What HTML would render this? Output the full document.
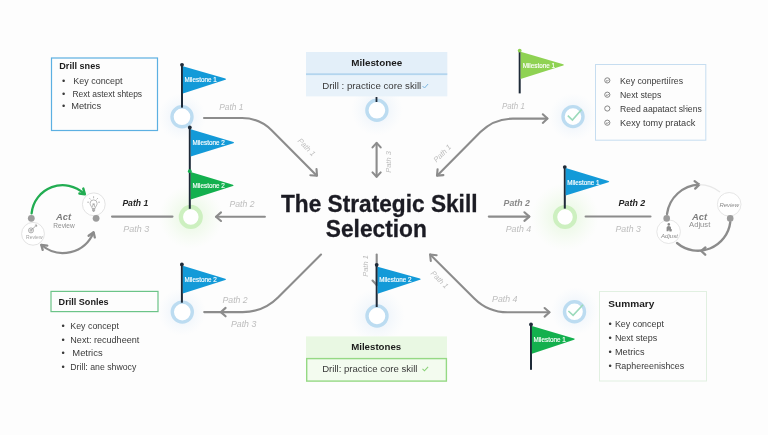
<!DOCTYPE html>
<html><head><meta charset="utf-8">
<style>
html,body{margin:0;padding:0;background:#fdfdfd;}
body{width:768px;height:435px;overflow:hidden;position:relative;}
svg{position:absolute;left:0;top:0;display:block;will-change:transform;}
text{font-family:"Liberation Sans",sans-serif;}
.pl{font-style:italic;font-size:9.2px;fill:#bdbdbd;}
.pm{font-style:italic;font-weight:bold;font-size:9.2px;fill:#8a8a8a;}
.pd{font-style:italic;font-weight:bold;font-size:9.6px;fill:#242424;}
.pr{font-style:italic;font-size:7.5px;fill:#bdbdbd;}
.fl{font-size:6.7px;fill:#fff;stroke:#fff;stroke-width:0.15;}
.ln{fill:none;stroke:#8c8c8c;stroke-width:2.1;stroke-linecap:round;stroke-linejoin:round;}
.ah{fill:none;stroke:#8c8c8c;stroke-width:2.1;stroke-linecap:round;stroke-linejoin:round;}
.bt{font-size:9.3px;fill:#3a3a3a;}
.bh{font-size:9.8px;font-weight:bold;fill:#1c1c1c;}
.pole{fill:#1e2a38;}
</style></head>
<body>
<svg width="768" height="435" viewBox="0 0 768 435">
<defs>
  <radialGradient id="gb" cx="50%" cy="50%" r="50%">
    <stop offset="0" stop-color="#dbebf7" stop-opacity="0.75"/>
    <stop offset="0.5" stop-color="#e8f1fa" stop-opacity="0.45"/>
    <stop offset="1" stop-color="#eef5fb" stop-opacity="0"/>
  </radialGradient>
  <radialGradient id="gg" cx="50%" cy="50%" r="50%">
    <stop offset="0" stop-color="#dcf4d1" stop-opacity="0.7"/>
    <stop offset="0.5" stop-color="#e8f8e1" stop-opacity="0.5"/>
    <stop offset="1" stop-color="#effaea" stop-opacity="0"/>
  </radialGradient>
</defs>
<rect x="0" y="0" width="768" height="435" fill="#fdfdfd"/>

<!-- glows -->
<circle cx="182" cy="117" r="24" fill="url(#gb)"/>
<circle cx="191" cy="217" r="32" fill="url(#gg)"/>
<circle cx="377" cy="110" r="26" fill="url(#gb)"/>
<circle cx="573" cy="117" r="24" fill="url(#gb)"/>
<circle cx="565" cy="217" r="34" fill="url(#gg)"/>
<circle cx="182" cy="312" r="24" fill="url(#gb)"/>
<circle cx="377" cy="316" r="28" fill="url(#gb)"/>
<circle cx="575" cy="311" r="24" fill="url(#gb)"/>

<!-- ============ BOXES ============ -->
<!-- TL Drill snes -->
<rect x="51.5" y="58" width="106" height="72.5" fill="#fdfdfd" stroke="#5cb0e2" stroke-width="1.2"/>
<text class="bh" x="59.3" y="69" textLength="41" lengthAdjust="spacingAndGlyphs">Drill snes</text>
<text class="bt" x="61.9" y="84.4">•</text><text class="bt" x="73.2" y="84.4" textLength="49.4" lengthAdjust="spacingAndGlyphs">Key concept</text>
<text class="bt" x="61.9" y="97.3">•</text><text class="bt" x="72.5" y="97.3" textLength="69.6" lengthAdjust="spacingAndGlyphs">Rext astext shteps</text>
<text class="bt" x="61.9" y="109.4">•</text><text class="bt" x="71.2" y="109.4" textLength="30" lengthAdjust="spacingAndGlyphs">Metrics</text>

<!-- TC Milestonee -->
<rect x="306" y="52" width="141.3" height="22" fill="#e3eff9"/>
<rect x="306" y="74" width="141.3" height="22.4" fill="#e8f2fa"/>
<rect x="306" y="73.3" width="141.3" height="1.8" fill="#b3d5ee"/>
<text class="bh" x="351.2" y="66.1" textLength="51" lengthAdjust="spacingAndGlyphs">Milestonee</text>
<text class="bt" x="322.2" y="89.4" textLength="99" lengthAdjust="spacingAndGlyphs" style="font-size:9.6px">Drill : practice core skill</text>
<path d="M422.5,86 l2,2 l3.6,-4" fill="none" stroke="#7cb7e0" stroke-width="1"/>

<!-- TR list box -->
<rect x="595.5" y="64.5" width="110.3" height="75.7" fill="#fdfdfd" stroke="#c6ddf0" stroke-width="1"/>
<g fill="none" stroke="#7a7a7a" stroke-width="0.9">
  <circle cx="607.3" cy="80.4" r="2.6"/><circle cx="607.3" cy="94.7" r="2.6"/>
  <circle cx="607.3" cy="108.5" r="2.6"/><circle cx="607.3" cy="122.7" r="2.6"/>
  <path d="M606,80.4 l1.1,1 l1.6,-1.7"/><path d="M606,94.7 l1.1,1 l1.6,-1.7"/>
  <path d="M606,122.7 l1.1,1 l1.6,-1.7"/>
</g>
<text class="bt" x="620" y="83.7" textLength="63" lengthAdjust="spacingAndGlyphs">Key conpertiíres</text>
<text class="bt" x="620" y="97.5" textLength="41.3" lengthAdjust="spacingAndGlyphs">Next steps</text>
<text class="bt" x="620" y="111.7" textLength="81.8" lengthAdjust="spacingAndGlyphs">Reed aapatact sŀiens</text>
<text class="bt" x="620" y="126" textLength="75.3" lengthAdjust="spacingAndGlyphs">Kexy tomy pratack</text>

<!-- BL Drill Sonles -->
<rect x="51" y="291.4" width="107" height="20.2" fill="#fdfdfd" stroke="#6cc488" stroke-width="1.2"/>
<text class="bh" x="58.6" y="305" textLength="50" lengthAdjust="spacingAndGlyphs">Drill Sonles</text>
<text class="bt" x="61.4" y="329.4">•</text><text class="bt" x="70.3" y="329.4" textLength="48.6" lengthAdjust="spacingAndGlyphs">Key concept</text>
<text class="bt" x="61.4" y="342.6">•</text><text class="bt" x="70.3" y="342.6" textLength="69" lengthAdjust="spacingAndGlyphs">Next: recudheent</text>
<text class="bt" x="61.4" y="356">•</text><text class="bt" x="72.3" y="356" textLength="30.3" lengthAdjust="spacingAndGlyphs">Metrics</text>
<text class="bt" x="61.4" y="369.6">•</text><text class="bt" x="70.3" y="369.6" textLength="66" lengthAdjust="spacingAndGlyphs">Drill: ane shwocy</text>

<!-- BC Milestones -->
<rect x="306" y="336.4" width="141" height="21.8" fill="#e9f8e3"/>
<rect x="306.7" y="358.6" width="139.7" height="22.5" fill="#f3fbef" stroke="#95d984" stroke-width="1.4"/>
<text class="bh" x="351.2" y="350.2" textLength="50" lengthAdjust="spacingAndGlyphs">Milestones</text>
<text class="bt" x="322.2" y="372.4" textLength="95.3" lengthAdjust="spacingAndGlyphs" style="font-size:9.6px">Drill: practice core skill</text>
<path d="M422.5,368.8 l2,2 l3.6,-4" fill="none" stroke="#8bd27a" stroke-width="1.1"/>

<!-- BR Summary -->
<rect x="599.5" y="291.5" width="107" height="89.5" fill="#fdfdfd" stroke="#e1f0e1" stroke-width="1"/>
<text class="bh" x="608.3" y="306.7" textLength="46" lengthAdjust="spacingAndGlyphs">Summary</text>
<text class="bt" x="608.6" y="326.6">•</text><text class="bt" x="614.9" y="326.6" textLength="49" lengthAdjust="spacingAndGlyphs">Key concept</text>
<text class="bt" x="608.6" y="340.9">•</text><text class="bt" x="614.9" y="340.9" textLength="42.4" lengthAdjust="spacingAndGlyphs">Next steps</text>
<text class="bt" x="608.6" y="354.8">•</text><text class="bt" x="614.9" y="354.8" textLength="29.6" lengthAdjust="spacingAndGlyphs">Metrics</text>
<text class="bt" x="608.6" y="369.1">•</text><text class="bt" x="614.9" y="369.1" textLength="69.3" lengthAdjust="spacingAndGlyphs">Raphereenishces</text>

<!-- ============ TITLE ============ -->
<text x="281" y="212.1" style="font-size:23.6px;font-weight:bold;fill:#1b1b23;stroke:#1b1b23;stroke-width:0.3" textLength="196.5" lengthAdjust="spacingAndGlyphs">The Strategic Skill</text>
<text x="325.8" y="236.9" style="font-size:23.6px;font-weight:bold;fill:#1b1b23;stroke:#1b1b23;stroke-width:0.3" textLength="101" lengthAdjust="spacingAndGlyphs">Selection</text>

<!-- ============ LINES ============ -->
<!-- TL curve -->
<path class="ln" d="M204,118 H241.9 A42,42 0 0 1 271.6,130.2 L316.6,175.4"/>
<path class="ah" d="M310.3,175.2 L317,175.7 L316.5,169"/>
<!-- TC vertical double arrow -->
<path class="ln" d="M376.6,143.2 V176.6"/>
<path class="ah" d="M372.5,147.4 L376.6,142.9 L380.7,147.4"/>
<path class="ah" d="M372.5,172.4 L376.6,176.8 L380.7,172.4"/>
<!-- TR curve (double-headed) -->
<path class="ln" d="M437.3,175.4 L480.4,132.1 A46,46 0 0 1 512.9,118.6 H547.3"/>
<path class="ah" d="M437.6,169.2 L437,175.6 L443.4,175.1"/>
<path class="ah" d="M542.8,114.3 L547.5,118.6 L542.8,122.9"/>
<!-- L left line & arrow -->
<path class="ln" d="M112,216.6 H172.5"/>
<path class="ln" d="M216.2,216.7 H264.9"/>
<path class="ah" d="M221,212.4 L216,216.7 L221,221"/>
<!-- R arrow & line -->
<path class="ln" d="M488.8,216.6 H529.2"/>
<path class="ah" d="M524.4,212.3 L529.4,216.6 L524.4,220.9"/>
<path class="ln" d="M585.6,216.5 H650.5"/>
<!-- BL curve -->
<path class="ln" d="M321,254.5 L278,297.5 A50,50 0 0 1 242.7,312.1 H204.2"/>
<path class="ah" d="M225.6,307.9 L220.9,312.1 L225.6,316.3"/>
<!-- BC vertical -->
<path class="ln" d="M376.7,254.5 V285"/>
<path class="ah" d="M372.5,280.5 L376.7,285 L380.9,280.5"/>
<!-- BR curve -->
<path class="ln" d="M430.2,254.6 L474.3,298.5 A47,47 0 0 0 507.6,312.3 H549.3"/>
<path class="ah" d="M430.8,261 L430.1,254.5 L436.6,255.2"/>
<path class="ah" d="M544.6,308 L549.5,312.3 L544.6,316.6"/>

<!-- ============ PATH LABELS ============ -->
<text class="pl" x="219.2" y="109.8" textLength="24.2" lengthAdjust="spacingAndGlyphs">Path 1</text>
<text class="pr" transform="translate(306.8,147) rotate(45)" text-anchor="middle" y="2.8">Path 1</text>
<text class="pr" transform="translate(388.2,162) rotate(-90)" text-anchor="middle" y="2.8">Path 3</text>
<text class="pr" transform="translate(442.1,153.2) rotate(-45)" text-anchor="middle" y="2.8">Path 1</text>
<text class="pl" x="501.9" y="108.8" textLength="23" lengthAdjust="spacingAndGlyphs">Path 1</text>
<text class="pl" x="229.5" y="206.9" textLength="25" lengthAdjust="spacingAndGlyphs">Path 2</text>
<text class="pd" x="122.4" y="206" textLength="25.8" lengthAdjust="spacingAndGlyphs">Path 1</text>
<text class="pl" x="123.2" y="232.1" textLength="26" lengthAdjust="spacingAndGlyphs">Path 3</text>
<text class="pm" x="503.6" y="206.3" textLength="26.3" lengthAdjust="spacingAndGlyphs">Path 2</text>
<text class="pl" x="505.7" y="232" textLength="25.5" lengthAdjust="spacingAndGlyphs">Path 4</text>
<text class="pd" x="618.6" y="206.3" textLength="26.6" lengthAdjust="spacingAndGlyphs">Path 2</text>
<text class="pl" x="615.5" y="232" textLength="25.3" lengthAdjust="spacingAndGlyphs">Path 3</text>
<text class="pl" x="222.5" y="302.7" textLength="25.2" lengthAdjust="spacingAndGlyphs">Path 2</text>
<text class="pl" x="230.9" y="326.7" textLength="25.4" lengthAdjust="spacingAndGlyphs">Path 3</text>
<text class="pr" transform="translate(365.6,266) rotate(-90)" text-anchor="middle" y="2.8">Path 1</text>
<text class="pr" transform="translate(439.8,279.4) rotate(45)" text-anchor="middle" y="2.8">Path 1</text>
<text class="pl" x="492.1" y="302.1" textLength="25.4" lengthAdjust="spacingAndGlyphs">Path 4</text>

<!-- ============ CYCLES ============ -->
<!-- Left cycle -->
<path d="M31.6,213.4 A31.2,31.2 0 0 1 84.2,193.8" fill="none" stroke="#22ad52" stroke-width="2.3" stroke-linecap="round"/>
<path d="M79.4,193.5 L84.9,194.4 L83.3,188.6" fill="none" stroke="#22ad52" stroke-width="2.4" stroke-linecap="round" stroke-linejoin="round"/>
<path class="ln" style="stroke-width:2.3" d="M93.4,232.6 A32.8,32.8 0 0 1 41.6,245"/>
<path class="ah" style="stroke-width:2.3" d="M88.6,235.8 L93.6,232.3 L94.8,237.4"/>
<path class="ah" style="stroke-width:2.3" d="M47.3,245.7 L41.2,244.8 L42.7,249.9"/>
<circle cx="93.8" cy="204.3" r="11.4" fill="#fff" stroke="#dcdcdc" stroke-width="0.8"/>
<circle cx="33" cy="233.8" r="11.4" fill="#fff" stroke="#dcdcdc" stroke-width="0.8"/>
<circle cx="31.3" cy="218.3" r="3.4" fill="#9c9c9c"/>
<circle cx="96.1" cy="218.3" r="3.4" fill="#9c9c9c"/>
<!-- bulb -->
<g fill="none" stroke="#8a8a8a" stroke-width="0.6" stroke-linecap="round">
  <path d="M92,208 C92,206.6 90.1,205.6 90.1,203.4 A3.5,3.5 0 1 1 97.1,203.4 C97.1,205.6 95.2,206.6 95.2,208 Z"/>
  <path d="M92.6,206.5 L93.1,203.6 L93.6,204.6 L94.1,203.6 L94.6,206.5"/>
  <path d="M93.6,196.6 V197.9 M89.6,198.4 l0.8,0.8 M97.6,198.4 l-0.8,0.8 M87.6,202.2 h1.1 M99.6,202.2 h-1.1"/>
</g>
<g fill="#9a9a9a"><rect x="92.1" y="208.4" width="3" height="2.6" rx="0.5"/><rect x="92.8" y="211" width="1.6" height="0.8"/></g>
<path d="M92.1,209.3 H95.1 M92.1,210.2 H95.1" stroke="#fff" stroke-width="0.3"/>
<!-- target icon -->
<g fill="none" stroke="#8a8a8a" stroke-width="0.7">
  <circle cx="31" cy="230.4" r="2.5"/>
  <circle cx="31" cy="230.4" r="0.9"/>
  <path d="M31.3,230.1 L36.4,225.3"/>
  <path d="M34.9,225.1 L36.7,225 L36.6,226.8"/>
</g>
<text x="34.3" y="238.8" text-anchor="middle" textLength="16.5" lengthAdjust="spacingAndGlyphs" style="font-size:5px;fill:#a3a3a3">Review</text>
<text x="63.6" y="219.6" text-anchor="middle" textLength="15.2" lengthAdjust="spacingAndGlyphs" style="font-size:9px;font-weight:bold;font-style:italic;fill:#7d7d7d">Act</text>
<text x="64" y="227.7" text-anchor="middle" textLength="21.5" lengthAdjust="spacingAndGlyphs" style="font-size:6.8px;fill:#8f8f8f">Review</text>

<!-- Right cycle -->
<path d="M667,214 A33.8,33.8 0 0 1 699,184.6" class="ln" style="stroke-width:2.3"/>
<path class="ah" style="stroke-width:2.3" d="M694.6,181.2 L699.3,184.7 L695.2,188.6"/>
<path d="M699.5,184.6 A33.8,33.8 0 0 1 720,192" fill="none" stroke="#e8e8e8" stroke-width="1.4"/>
<path d="M730.3,222 A32.5,32.5 0 0 1 677,243" class="ln" style="stroke-width:2.3"/>
<path class="ah" style="stroke-width:2.3" d="M705.4,247.5 L701.2,251 L705.2,254.7"/>
<circle cx="729.2" cy="204.3" r="11.8" fill="#fff" stroke="#e0e0e0" stroke-width="0.8"/>
<circle cx="668.6" cy="231.7" r="11.8" fill="#fff" stroke="#e0e0e0" stroke-width="0.8"/>
<circle cx="666.7" cy="218.4" r="3.3" fill="#9c9c9c"/>
<circle cx="730.2" cy="218.4" r="3.3" fill="#9c9c9c"/>
<text x="729.2" y="206.6" text-anchor="middle" textLength="19.5" lengthAdjust="spacingAndGlyphs" style="font-size:6px;font-style:italic;fill:#8a8a8a">Review</text>
<g fill="#8a8a8a"><circle cx="668.8" cy="224.4" r="1.3"/><path d="M666.6,231.3 L666.6,227.6 Q666.6,226 668.8,226 Q671,226 671,227.6 L671,229 L672,229.5 L671.5,231.5 L669.5,231.5 L669,229.5 L668.4,231.3 Z"/></g>
<text x="669.5" y="238.3" text-anchor="middle" textLength="16.8" lengthAdjust="spacingAndGlyphs" style="font-size:6px;font-style:italic;fill:#8a8a8a">Adjust</text>
<text x="699.6" y="219.5" text-anchor="middle" textLength="15.2" lengthAdjust="spacingAndGlyphs" style="font-size:9px;font-weight:bold;font-style:italic;fill:#7d7d7d">Act</text>
<text x="699.7" y="226.8" text-anchor="middle" textLength="21.2" lengthAdjust="spacingAndGlyphs" style="font-size:7px;fill:#8f8f8f">Adjust</text>

<!-- ============ RINGS ============ -->
<g fill="#fff" stroke-width="3.4">
  <circle cx="182" cy="116.8" r="10" stroke="#bcdcf1"/>
  <circle cx="190.8" cy="216.9" r="9.9" stroke="#cdf0c0" stroke-width="4.3"/>
  <circle cx="376.9" cy="110.3" r="10" stroke="#bcdcf1"/>
  <circle cx="573" cy="116.6" r="10" stroke="#bcdcf1"/>
  <circle cx="565" cy="217" r="9.9" stroke="#cdf0c0" stroke-width="4.3"/>
  <circle cx="182.3" cy="312.1" r="10" stroke="#bcdcf1"/>
  <circle cx="377" cy="316" r="10" stroke="#bcdcf1"/>
  <circle cx="574.5" cy="311.8" r="10" stroke="#bcdcf1"/>
</g>
<path d="M567.8,115.6 L572.4,120 L581.6,109.4" fill="none" stroke="#9bdabb" stroke-width="1.6"/>
<path d="M568.4,311 L573.1,315.4 L583,304.8" fill="none" stroke="#9bdabb" stroke-width="1.6"/>
<rect x="375.6" y="97" width="1.8" height="5" class="pole"/>

<!-- ============ FLAGS ============ -->
<rect x="181.0" y="64.6" width="2" height="43.0" class="pole"/><circle cx="182.0" cy="64.8" r="1.9" fill="#1e2a38"/>
<polygon points="182.9,66.3 225.4,78.6 226.2,79.2 225.4,79.8 182.9,93.6" fill="#139ad8"/>
<text class="fl" x="184.4" y="82.0" textLength="32.4" lengthAdjust="spacingAndGlyphs">Milestone 1</text>
<rect x="188.8" y="127.3" width="2" height="81.5" class="pole"/><circle cx="189.8" cy="127.5" r="1.9" fill="#1e2a38"/>
<polygon points="190.7,129.3 233.4,142.1 234.2,142.7 233.4,143.3 190.7,156.5" fill="#139ad8"/>
<text class="fl" x="192.4" y="145.2" textLength="32.4" lengthAdjust="spacingAndGlyphs">Milestone 2</text>
<rect x="188.8" y="171.0" width="2" height="0.0" class="pole"/><circle cx="189.8" cy="171.2" r="1.9" fill="#13b04e"/>
<polygon points="190.7,171.9 232.9,184.8 233.7,185.4 232.9,186.0 190.7,199.5" fill="#13b04e"/>
<text class="fl" x="192.4" y="187.9" textLength="32.4" lengthAdjust="spacingAndGlyphs">Milestone 2</text>
<rect x="518.7" y="50.4" width="2" height="43.0" class="pole"/><circle cx="519.7" cy="50.6" r="1.9" fill="#8fd253"/>
<polygon points="520.6,51.7 563.2,64.3 564.0,64.9 563.2,65.5 520.6,79.0" fill="#8fd253"/>
<text class="fl" x="522.7" y="67.7" textLength="32.4" lengthAdjust="spacingAndGlyphs">Milestone 1</text>
<rect x="563.8" y="166.9" width="2" height="41.7" class="pole"/><circle cx="564.8" cy="167.1" r="1.9" fill="#1e2a38"/>
<polygon points="565.7,168.0 608.5,181.1 609.3,181.7 608.5,182.3 565.7,195.5" fill="#139ad8"/>
<text class="fl" x="567.2" y="184.5" textLength="32.4" lengthAdjust="spacingAndGlyphs">Milestone 1</text>
<rect x="180.9" y="264.2" width="2" height="38.5" class="pole"/><circle cx="181.9" cy="264.4" r="1.9" fill="#1e2a38"/>
<polygon points="182.8,265.8 225.3,278.7 226.1,279.3 225.3,279.9 182.8,293.4" fill="#139ad8"/>
<text class="fl" x="184.4" y="281.5" textLength="32.4" lengthAdjust="spacingAndGlyphs">Milestone 2</text>
<rect x="375.7" y="264.6" width="2" height="42.4" class="pole"/><circle cx="376.7" cy="264.8" r="1.9" fill="#1e2a38"/>
<polygon points="377.6,266.7 420.0,278.6 420.8,279.2 420.0,279.8 377.6,293.8" fill="#139ad8"/>
<text class="fl" x="379.2" y="282.4" textLength="32.4" lengthAdjust="spacingAndGlyphs">Milestone 2</text>
<rect x="530.0" y="324.2" width="2" height="45.6" class="pole"/><circle cx="531.0" cy="324.4" r="1.9" fill="#1e2a38"/>
<polygon points="531.9,326.1 574.1,338.5 574.9,339.1 574.1,339.7 531.9,353.8" fill="#13b04e"/>
<text class="fl" x="533.4" y="341.9" textLength="32.4" lengthAdjust="spacingAndGlyphs">Milestone 1</text>
</svg>
</body></html>
